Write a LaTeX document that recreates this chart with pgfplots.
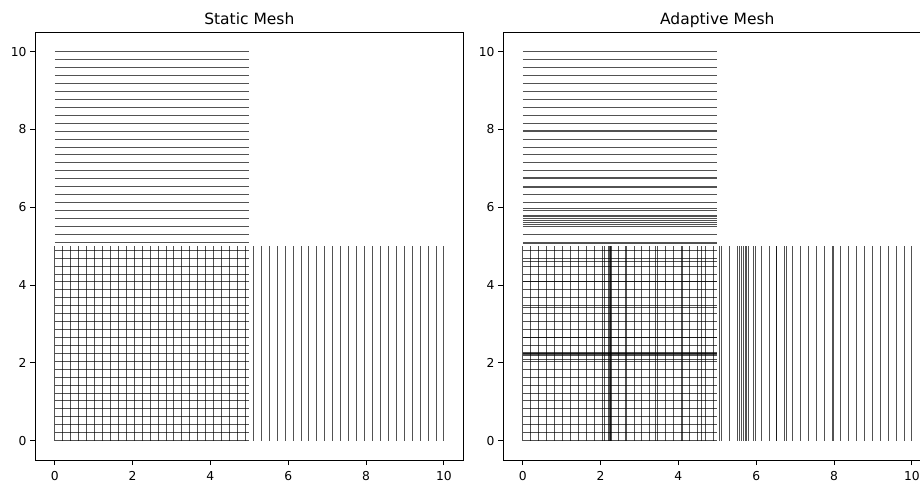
\documentclass[border=0pt]{standalone}
\usepackage{fontspec}
\setmainfont{DejaVu Sans}
\usepackage{pgfplots}
\pgfplotsset{compat=1.18}
\pgfplotsset{
  meshline/.style={black, opacity=0.68, line width=0.8pt},
  meshax/.style={
    scale only axis, width=428pt, height=427.7pt,
    xmin=-0.5, xmax=10.5, ymin=-0.5, ymax=10.5,
    xtick={0,2,4,6,8,10}, ytick={0,2,4,6,8,10},
    tick align=outside, xtick pos=bottom, ytick pos=left,
    major tick length=5pt,
    tick style={black, line width=0.9pt},
    axis line style={black, line width=0.9pt},
    ticklabel style={font=\fontsize{12.3}{14}\selectfont},
    /pgf/number format/assume math mode=true,
    xticklabel style={inner sep=0pt, anchor=north, yshift=-6.3pt},
    yticklabel style={inner sep=0pt, anchor=east, xshift=-3.6pt},
    every axis title/.style={font=\fontsize{15.5}{18}\selectfont, anchor=base, at={(0.5,1)}, yshift=7.3pt},
    anchor=south west,
  },
}
\begin{document}
\begin{tikzpicture}
\useasboundingbox (0,0) rectangle (920pt,482pt);
% Static mesh
\begin{axis}[meshax, at={(35.3pt,22pt)}, title={Static Mesh}]
\pgfplotsinvokeforeach{0,0.2041,0.4082,0.6122,0.8163,1.0204,1.2245,1.4286,1.6327,1.8367,2.0408,2.2449,2.4490,2.6531,2.8571,3.0612,3.2653,3.4694,3.6735,3.8776,4.0816,4.2857,4.4898,4.6939,4.8980,5.1020,5.3061,5.5102,5.7143,5.9184,6.1224,6.3265,6.5306,6.7347,6.9388,7.1429,7.3469,7.5510,7.7551,7.9592,8.1633,8.3673,8.5714,8.7755,8.9796,9.1837,9.3878,9.5918,9.7959,10}{
  \addplot[meshline] coordinates {(0,#1) (5,#1)};
  \addplot[meshline] coordinates {(#1,0) (#1,5)};
}
\end{axis}
% Adaptive mesh
\begin{axis}[meshax, at={(503.3pt,22pt)}, title={Adaptive Mesh}]
\pgfplotsinvokeforeach{0,0.2041,0.4082,0.6122,0.8163,1.0204,1.2245,1.4286,1.6327,1.8367,2.0408,2.2449,2.4490,2.6531,2.8571,3.0612,3.2653,3.4694,3.6735,3.8776,4.0816,4.2857,4.4898,4.6939,4.8980,5.1020,5.3061,5.5102,5.7143,5.9184,6.1224,6.3265,6.5306,6.7347,6.9388,7.1429,7.3469,7.5510,7.7551,7.9592,8.1633,8.3673,8.5714,8.7755,8.9796,9.1837,9.3878,9.5918,9.7959,10}{
  \addplot[meshline] coordinates {(0,#1) (5,#1)};
  \addplot[meshline] coordinates {(#1,0) (#1,5)};
}
\pgfplotsinvokeforeach{2.09,2.20,2.22,2.24,2.27,2.65,3.42,4.10,4.60,5.06,5.57,5.62,5.66,5.76,5.80,5.97,6.52,6.78,7.98}{
  \addplot[meshline] coordinates {(0,#1) (5,#1)};
  \addplot[meshline] coordinates {(#1,0) (#1,5)};
}
\end{axis}
\end{tikzpicture}
\end{document}
